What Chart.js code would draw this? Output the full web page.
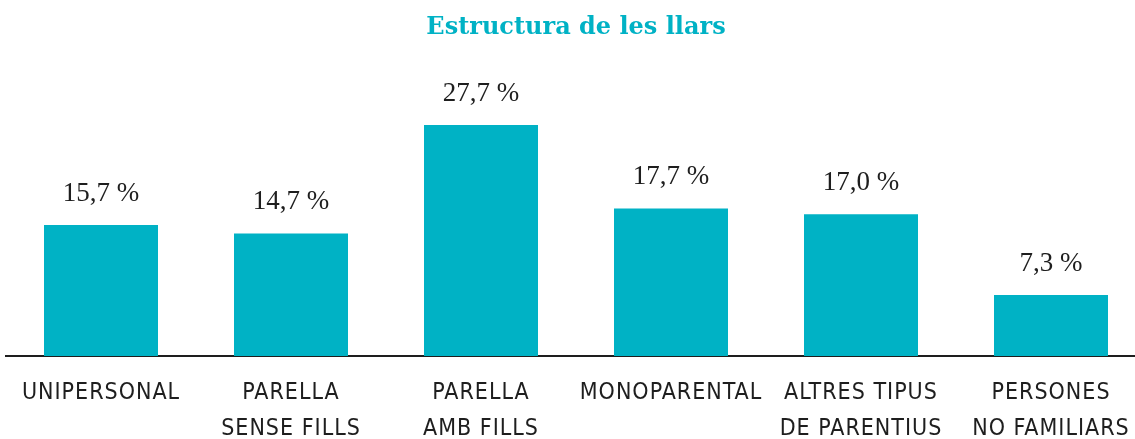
<!DOCTYPE html>
<html>
<head>
<meta charset="utf-8">
<script src="https://cdn.jsdelivr.net/npm/chart.js@4"></script>
<style>
  html, body { margin: 0; padding: 0; background: #fff; overflow: hidden; }
  #wrap { width: 1146px; height: 439px; }
</style>
</head>
<body>
<div id="wrap"><canvas id="llars" width="1146" height="439"></canvas></div>
<script>
// dades
const categories = [
  ['UNIPERSONAL'],
  ['PARELLA', 'SENSE FILLS'],
  ['PARELLA', 'AMB FILLS'],
  ['MONOPARENTAL'],
  ['ALTRES TIPUS', 'DE PARENTIUS'],
  ['PERSONES', 'NO FAMILIARS']
];
const percentatges = [15.7, 14.7, 27.7, 17.7, 17.0, 7.3];

const teal = '#00b2c5';
const ink = '#1e1e1e';
const serif = "'Liberation Serif', 'Times New Roman', serif";
const titleSerif = "'DejaVu Serif', Georgia, serif";
const narrow = "'Liberation Sans Narrow', 'DejaVu Sans Condensed', sans-serif";

// etiquetes de valor damunt de cada barra
const valueLabels = {
  id: 'valueLabels',
  afterDatasetsDraw(chart) {
    const ctx = chart.ctx;
    const meta = chart.getDatasetMeta(0);
    ctx.save();
    ctx.letterSpacing = '0px';
    ctx.font = '27px ' + serif;
    ctx.fillStyle = ink;
    ctx.textAlign = 'center';
    ctx.textBaseline = 'middle';
    meta.data.forEach((bar, i) => {
      const txt = percentatges[i].toFixed(1).replace('.', ',') + ' %';
      ctx.fillText(txt, bar.x, bar.y - 31);
    });
    ctx.restore();
  }
};

// espaiat de lletres a l'eix x
const spacedTicks = {
  id: 'spacedTicks',
  afterLayout(chart) {
    const sc = chart.scales.x;
    if (sc._wrapped) return;
    const orig = sc.drawLabels;
    sc.drawLabels = function (area) {
      const ctx = chart.ctx;
      ctx.save();
      ctx.letterSpacing = '1px';
      orig.call(this, area);
      ctx.restore();
    };
    sc._wrapped = true;
  }
};

const ctx = document.getElementById('llars');

new Chart(ctx, {
  type: 'bar',
  data: {
    labels: categories,
    datasets: [{
      data: percentatges,
      backgroundColor: teal,
      borderWidth: 0,
      barPercentage: 0.6,
      categoryPercentage: 1
    }]
  },
  options: {
    responsive: false,
    animation: false,
    layout: { padding: { left: 6, right: 0, top: 0, bottom: 0 } },
    plugins: {
      legend: { display: false },
      tooltip: { enabled: false },
      title: {
        display: true,
        text: 'Estructura de les llars',
        color: teal,
        font: { family: titleSerif, size: 24, weight: 'bold', lineHeight: 1.2 },
        padding: { top: 13, bottom: 64 }
      }
    },
    scales: {
      x: {
        grid: { display: false, drawTicks: false },
        border: { display: true, color: ink, width: 2 },
        ticks: {
          color: ink,
          padding: 19,
          maxRotation: 0,
          autoSkip: false,
          font: { family: narrow, size: 23, lineHeight: 1.57 }
        },
        afterFit(scale) { scale.height = 83; }
      },
      y: {
        display: false,
        min: 0,
        max: 30
      }
    }
  },
  plugins: [valueLabels, spacedTicks]
});
</script>
</body>
</html>
